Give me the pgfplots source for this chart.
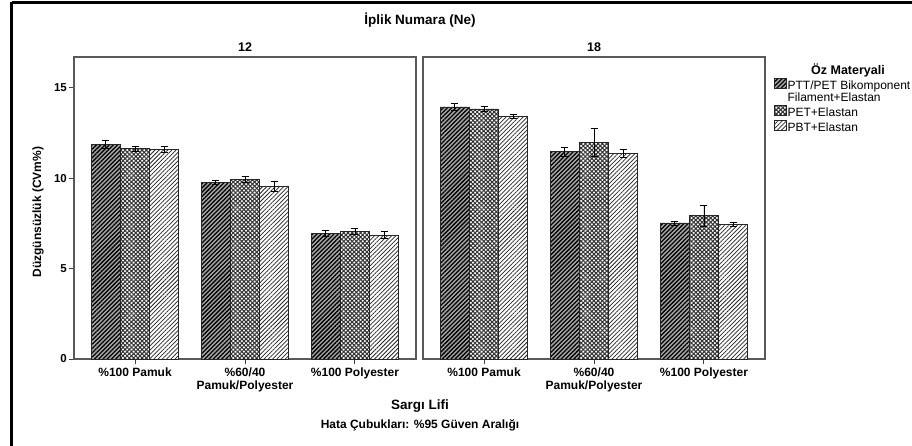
\documentclass[border=0pt]{standalone}
\usepackage{fontspec}
\setmainfont{Liberation Sans}
\usepackage{pgfplots}
\pgfplotsset{compat=1.18}
\usetikzlibrary{patterns.meta}

\pgfplotstableread{
x y e
0 11.88 0.20
1 9.77 0.13
2 6.95 0.18
}\Aone
\pgfplotstableread{
x y e
0 11.64 0.15
1 9.94 0.15
2 7.06 0.17
}\Atwo
\pgfplotstableread{
x y e
0 11.60 0.17
1 9.55 0.28
2 6.86 0.20
}\Athree
\pgfplotstableread{
x y e
0 13.95 0.18
1 11.47 0.24
2 7.53 0.11
}\Bone
\pgfplotstableread{
x y e
0 13.84 0.16
1 11.97 0.78
2 7.93 0.57
}\Btwo
\pgfplotstableread{
x y e
0 13.41 0.11
1 11.38 0.24
2 7.45 0.11
}\Bthree

\pgfplotsset{
  sA/.style={draw=black!85, line width=0.7pt, fill=black!35,
    postaction={pattern={Lines[angle=45,distance=3pt,line width=1.3pt]}, pattern color=black}},
  sB/.style={draw=black!85, line width=0.7pt, fill=white,
    postaction={pattern={Hatch[angle=45,distance=3pt,line width=1.05pt]}, pattern color=black!80}},
  sC/.style={draw=black!85, line width=0.7pt, fill=white,
    postaction={pattern={Lines[angle=45,distance=3pt,line width=0.75pt]}, pattern color=black!85}},
  panel/.style={
    scale only axis, width=342pt, height=302pt,
    ybar=0pt, bar width=29.2pt,
    xmin=-0.555, xmax=2.555, ymin=0, ymax=16.71,
    xtick={0,1,2},
    xticklabels={\%100 Pamuk, {\%60/40\\Pamuk/Polyester}, \%100 Polyester},
    xticklabel style={align=center, font=\bfseries\fontsize{12}{12.5}\selectfont, inner sep=2pt, yshift=-2pt},
    yticklabel style={font=\bfseries\fontsize{11.5}{12}\selectfont, inner sep=2pt},
    /pgf/number format/assume math mode=true,
    axis line style={black!65, line width=1.3pt},
    tick style={black!75, line width=1pt},
    tick align=outside, major tick length=5pt,
    xtick pos=bottom, ytick pos=left,
    error bars/error bar style={black, line width=0.8pt},
    error bars/error mark options={rotate=90, mark size=3.5pt, line width=0.8pt, black},
    legend image code/.code={\draw[#1] (0pt,-2pt) rectangle (12pt,8pt);},
  },
}

\begin{document}
\begin{tikzpicture}[x=1pt,y=1pt]
\useasboundingbox (0,0) rectangle (912,445);
\draw[line width=3pt] (11.5,442.5) -- (1000,442.5);
\draw[line width=3pt] (11.5,442.5) -- (11.5,-50);

\begin{axis}[panel, at={(74pt,86pt)}, anchor=south west, ytick={0,5,10,15}]
\addplot[sA, error bars/.cd, y dir=both, y explicit] table[x=x,y=y,y error=e]{\Aone};
\addplot[sB, error bars/.cd, y dir=both, y explicit] table[x=x,y=y,y error=e]{\Atwo};
\addplot[sC, error bars/.cd, y dir=both, y explicit] table[x=x,y=y,y error=e]{\Athree};
\end{axis}

\begin{axis}[panel, at={(423pt,86pt)}, anchor=south west, ytick=\empty,
  legend style={draw=none, fill=none, at={(axis description cs:1.026,0.93)}, anchor=north west,
    inner sep=0pt, row sep=0.5pt, font=\fontsize{12}{11}\selectfont,
    nodes={inner sep=0.8pt, text height=8pt, text depth=2pt}},
  legend cell align=left]
\addplot[sA, error bars/.cd, y dir=both, y explicit] table[x=x,y=y,y error=e]{\Bone};
\addlegendentry{PTT/PET Bikomponent}
\addlegendimage{empty legend}
\addlegendentry{Filament+Elastan}
\addplot[sB, error bars/.cd, y dir=both, y explicit] table[x=x,y=y,y error=e]{\Btwo};
\addlegendentry{PET+Elastan}
\addplot[sC, error bars/.cd, y dir=both, y explicit] table[x=x,y=y,y error=e]{\Bthree};
\addlegendentry{PBT+Elastan}
\end{axis}

\node[font=\bfseries\fontsize{13.5}{14}\selectfont] at (420,425) {İplik Numara (Ne)};
\node[font=\bfseries\fontsize{12.5}{13}\selectfont] at (245,398) {12};
\node[font=\bfseries\fontsize{12.5}{13}\selectfont] at (594,398) {18};
\node[font=\bfseries\fontsize{12.5}{13}\selectfont] at (848,375) {Öz Materyali};
\node[font=\bfseries\fontsize{12}{12}\selectfont, rotate=90] at (38,233) {Düzgünsüzlük (CVm\%)};
\node[font=\bfseries\fontsize{13.5}{14}\selectfont] at (420,39) {Sargı Lifi};
\node[font=\bfseries\fontsize{12}{12}\selectfont] at (420,20) {Hata Çubukları: \%95 Güven Aralığı};
\end{tikzpicture}
\end{document}
